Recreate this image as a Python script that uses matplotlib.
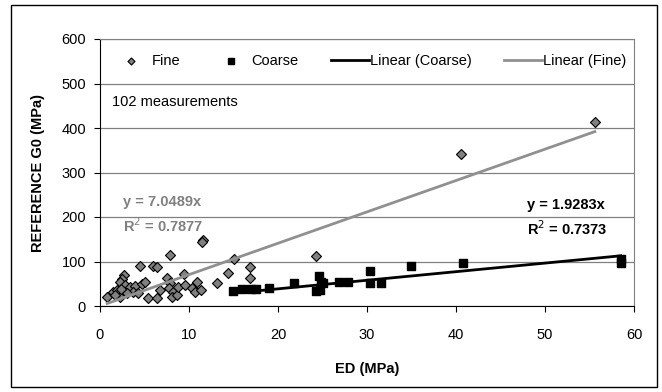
import matplotlib
matplotlib.use("Agg")
from matplotlib import pyplot as plt
from matplotlib.patches import Rectangle
import numpy as np

plt.rcParams["font.family"] = ["Liberation Sans", "DejaVu Sans"]

# fine soils (gray diamonds)
fine_ed = [4.5, 6.0, 2.7, 2.5, 2.3, 0.8, 1.5, 1.9, 2.8, 3.4, 3.9, 4.7, 5.1, 5.4,
           3.7, 4.3, 2.2, 3.0, 1.7, 2.4, 6.4,
           11.6, 11.5, 7.9, 6.4, 9.4, 7.5, 7.9, 6.7, 7.7, 8.2, 8.1, 8.6, 8.8, 9.6,
           10.3, 10.9, 10.7, 11.4,
           13.2, 14.4, 15.1, 16.9, 16.9, 24.3, 40.6, 55.6]
fine_g0 = [91, 91, 70, 60, 53, 21, 32, 36, 47, 42, 45, 49, 55, 17,
           32, 29, 21, 30, 25, 38, 19,
           148, 143, 115, 88, 73, 62, 51, 36, 40, 32, 21, 25, 43, 47,
           40, 55, 32, 36,
           51, 75, 105, 88, 62, 112, 342, 413]

# coarse soils (black squares)
coarse_ed = [15.0, 15.9, 17.0, 17.5, 19.0, 21.8, 24.6, 24.7, 24.3, 25.1, 24.8,
             26.9, 27.9, 30.3, 30.3, 31.6, 34.9, 40.8, 58.5, 58.5]
coarse_g0 = [34, 38, 38, 38, 40, 52, 67, 36, 34, 51, 55,
             55, 55, 79, 52, 52, 91, 96, 105, 97]

slope_fine, r2_fine = 7.0489, 0.7877
slope_coarse, r2_coarse = 1.9283, 0.7373

fs = 10.5

fig = plt.figure(figsize=(6.62, 3.92), dpi=100)
fig.patches.append(Rectangle((11 / 662, 5 / 392), 646 / 662, 382 / 392,
                             transform=fig.transFigure, fill=False,
                             edgecolor="black", linewidth=1.0))
ax = fig.add_axes([100 / 662, 86 / 392, 534 / 662, 267 / 392])

ax.set_xlim(0, 60)
ax.set_ylim(0, 600)
ax.set_xticks(np.arange(0, 61, 10))
ax.set_yticks(np.arange(0, 601, 100))
ax.yaxis.grid(True, color="#808080", linewidth=0.9)
ax.set_axisbelow(True)

for s in ["top", "right"]:
    ax.spines[s].set_color("#808080")
for s in ["left", "bottom"]:
    ax.spines[s].set_color("black")
ax.tick_params(direction="out", length=4, labelsize=fs, color="black")
ax.tick_params(axis="x", pad=12)
ax.tick_params(axis="y", pad=6)

ax.scatter(fine_ed, fine_g0, marker="D", s=26, c="#808080",
           edgecolors="black", linewidths=0.8, label="Fine", zorder=3)
ax.scatter(coarse_ed, coarse_g0, marker="s", s=30, c="black",
           label="Coarse", zorder=3)

xc = np.array([min(coarse_ed), max(coarse_ed)])
ax.plot(xc, slope_coarse * xc, color="black", lw=2, label="Linear (Coarse)", zorder=4)
xf = np.array([min(fine_ed), max(fine_ed)])
ax.plot(xf, slope_fine * xf, color="#909090", lw=2, label="Linear (Fine)", zorder=4)

ax.legend(loc="center", bbox_to_anchor=(0.012, 0.87, 0.985, 0.095), mode="expand",
          ncol=4, frameon=False, fontsize=fs, handlelength=2.6,
          handletextpad=0.1, borderaxespad=0, markerscale=0.7)

ax.text(1.3, 458, "102 measurements", fontsize=fs, va="center")
ax.text(2.6, 234, "y = 7.0489x", fontsize=fs, fontweight="bold",
        color="#808080", va="center")
ax.text(2.6, 180, "R$^2$ = %.4f" % r2_fine, fontsize=fs, fontweight="bold",
        color="#808080", va="center")
ax.text(48.0, 227, "y = 1.9283x", fontsize=fs, fontweight="bold", va="center")
ax.text(48.0, 174, "R$^2$ = %.4f" % r2_coarse, fontsize=fs, fontweight="bold",
        va="center")

ax.set_xlabel("ED (MPa)", fontsize=fs, fontweight="bold", labelpad=14)
ax.set_ylabel("REFERENCE G0 (MPa)", fontsize=fs, fontweight="bold", labelpad=12)

fig.savefig("out.png", dpi=100)
